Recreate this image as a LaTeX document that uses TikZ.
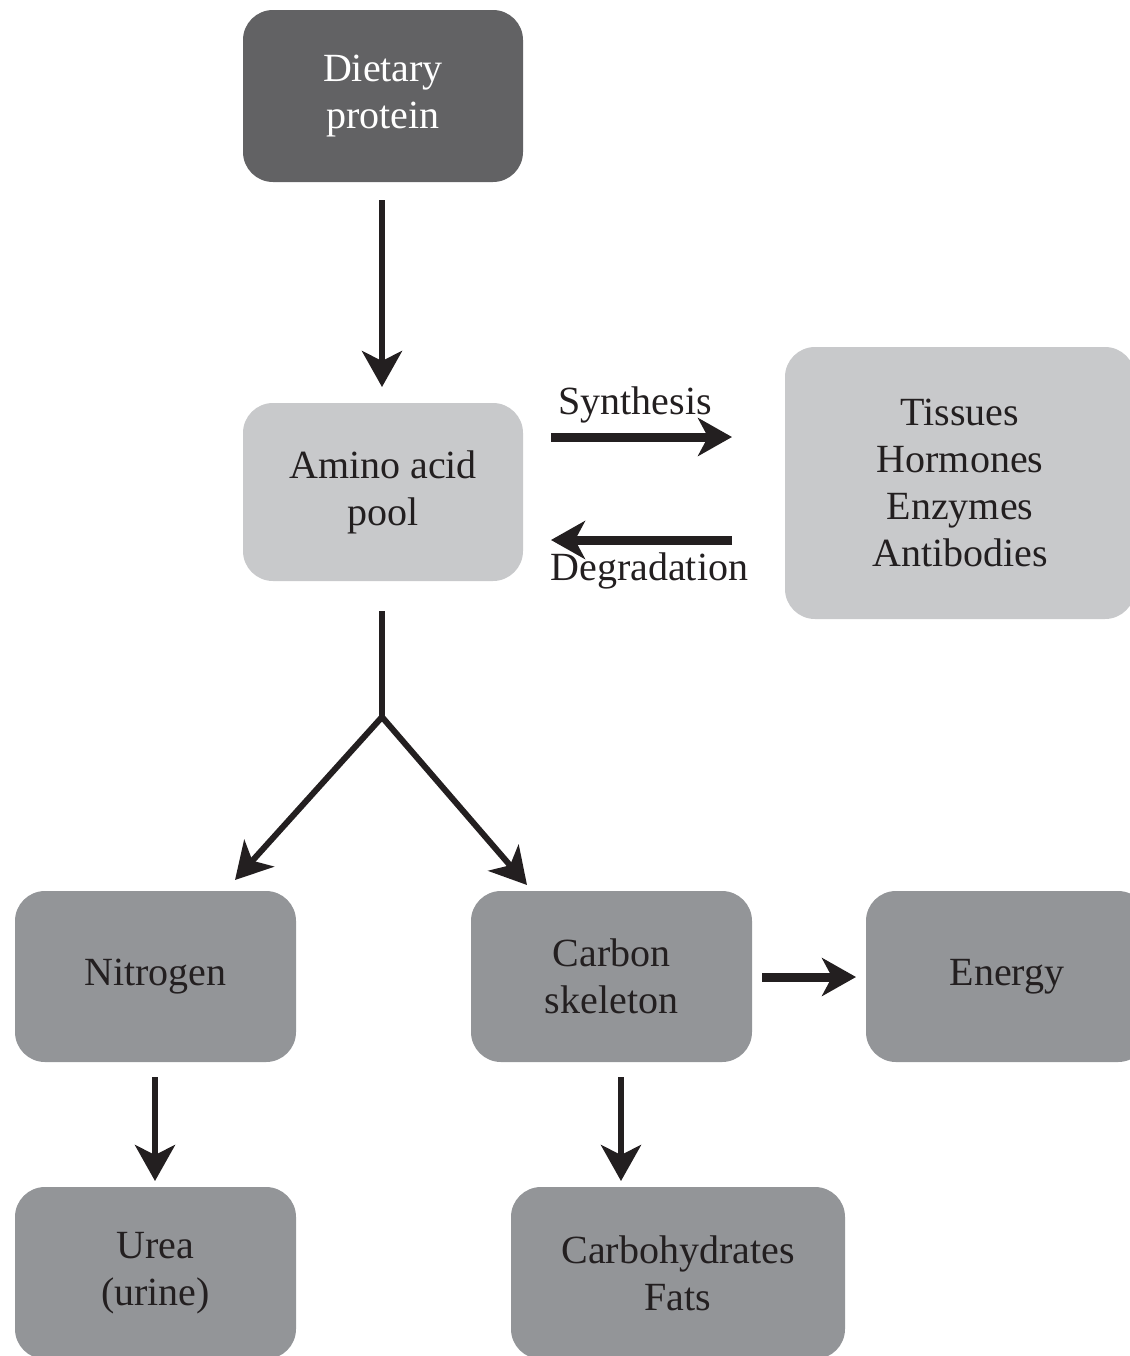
\documentclass[tikz,border=0pt]{standalone}
\usepackage{fontspec}
\setmainfont{Liberation Serif}
\usetikzlibrary{arrows.meta}
\definecolor{ink}{HTML}{231F20}
\definecolor{darkbox}{HTML}{626264}
\definecolor{lightbox}{HTML}{C8C9CB}
\definecolor{midbox}{HTML}{939598}
\tikzset{
  box/.style={rounded corners=15pt, inner sep=0pt, align=center, text=ink,
    font=\fontsize{20}{23.5}\selectfont},
  arr/.style={draw=ink, line width=3pt, -{Stealth[length=18pt,width=20pt,inset=5pt]}},
  thickarr/.style={draw=ink, line width=4.5pt, -{Stealth[length=17pt,width=19pt,inset=5pt]}},
  lbl/.style={text=ink, font=\fontsize{20}{23.5}\selectfont, inner sep=0pt}
}
\begin{document}
\begin{tikzpicture}[x=0.5pt,y=-0.5pt]
\useasboundingbox (0,0) rectangle (1130,1356);
% boxes
\node[box, fill=darkbox, text=white, minimum width=140pt, minimum height=86pt] (diet) at (383,96) {Dietary\\protein};
\node[box, fill=lightbox, minimum width=140pt, minimum height=89pt] (pool) at (383,492) {Amino acid\\pool};
\node[box, fill=lightbox, minimum width=175pt, minimum height=136pt] (tiss) at (960,483) {Tissues\\Hormones\\Enzymes\\Antibodies};
\node[box, fill=midbox, minimum width=140.5pt, minimum height=85.5pt] (nitro) at (155.5,976.5) {Nitrogen};
\node[box, fill=midbox, minimum width=140.5pt, minimum height=85.5pt] (carbon) at (611.5,976.5) {Carbon\\skeleton};
\node[box, fill=midbox, minimum width=141pt, minimum height=85.5pt] (energy) at (1007,976.5) {Energy};
\node[box, fill=midbox, minimum width=140.5pt, minimum height=86pt] (urea) at (155.5,1273) {Urea\\(urine)};
\node[box, fill=midbox, minimum width=167pt, minimum height=86pt] (carbs) at (678,1273) {Carbohydrates\\Fats};
% helper coordinates
\coordinate (d1) at (382,200);
\coordinate (d2) at (382,387);
\coordinate (s1) at (551,437);
\coordinate (s2) at (732,437);
\coordinate (g1) at (732,540);
\coordinate (g2) at (551,540);
\coordinate (b0) at (382,611);
\coordinate (fork) at (382,717);
\coordinate (bl) at (235,880);
\coordinate (br) at (527,885);
\coordinate (n1) at (155,1077);
\coordinate (n2) at (155,1181);
\coordinate (c1) at (621,1077);
\coordinate (c2) at (621,1181);
\coordinate (e1) at (762,977);
\coordinate (e2) at (856,977);
% connectors
\draw[arr] (d1) -- (d2);
\draw[thickarr] (s1) -- (s2);
\draw[thickarr] (g1) -- (g2);
\draw[draw=ink, line width=3pt] (b0) -- (fork);
\draw[arr] (fork) -- (bl);
\draw[arr] (fork) -- (br);
\draw[arr] (n1) -- (n2);
\draw[arr] (c1) -- (c2);
\draw[thickarr] (e1) -- (e2);
% labels
\node[lbl, anchor=base west] (synth) at (558,414) {Synthesis};
\node[lbl, anchor=base west] (degr) at (550,580) {Degradation};
\end{tikzpicture}
\end{document}
